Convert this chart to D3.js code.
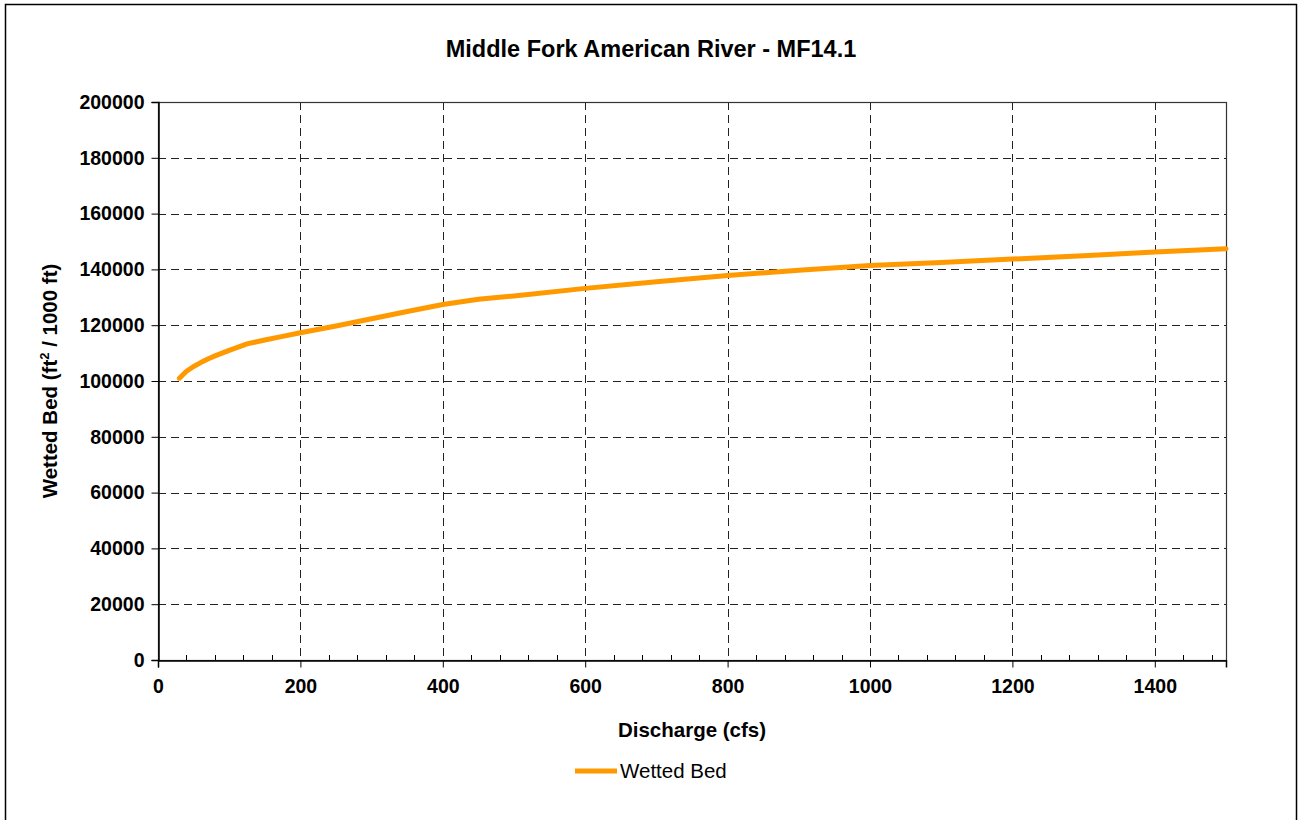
<!DOCTYPE html>
<html>
<head>
<meta charset="utf-8">
<script src="https://cdn.jsdelivr.net/npm/d3@7"></script>
<style>
  body { margin: 0; background: #fff; }
  svg { display: block; font-family: "Liberation Sans", Arial, sans-serif; }
</style>
</head>
<body>
<div id="chart"></div>
<script>
var discharge = [30, 40, 50, 60, 70, 80, 90, 100, 125, 150, 175, 200, 250, 300, 350, 400, 450, 500, 600, 700, 800, 900, 1000, 1100, 1200, 1300, 1400, 1500];
var wettedBed = [101000, 103500, 105200, 106600, 107900, 109000, 110000, 111000, 113300, 114700, 116000, 117300, 119700, 122300, 124900, 127400, 129300, 130500, 133200, 135600, 137800, 139700, 141400, 142500, 143700, 144900, 146200, 147400];
var xTicks = [0, 200, 400, 600, 800, 1000, 1200, 1400];
var yTicks = [0, 20000, 40000, 60000, 80000, 100000, 120000, 140000, 160000, 180000, 200000];

var width = 1303, height = 820;
var plotLeft = 158, plotRight = 1226, plotTop = 102, plotBottom = 660;
var font = '"Liberation Sans", Arial, sans-serif';

var svg = d3.select('#chart').append('svg')
  .attr('width', width)
  .attr('height', height);

// outer chart border
svg.append('rect')
  .attr('x', 5.5).attr('y', 4.5)
  .attr('width', 1291).attr('height', 830)
  .attr('fill', 'none').attr('stroke', '#000').attr('stroke-width', 1.5);

var x = d3.scaleLinear().domain([0, 1500]).range([plotLeft, plotRight]);
var y = d3.scaleLinear().domain([0, 200000]).range([plotBottom, plotTop]);

// gridlines
svg.append('g').selectAll('line')
  .data(xTicks.filter(function(d) { return d > 0; }))
  .enter().append('line')
  .attr('x1', function(d) { return Math.round(x(d)) + 0.5; })
  .attr('x2', function(d) { return Math.round(x(d)) + 0.5; })
  .attr('y1', plotTop).attr('y2', plotBottom)
  .attr('stroke', '#222').attr('stroke-dasharray', '8,5');

svg.append('g').selectAll('line')
  .data(yTicks.filter(function(d) { return d > 0 && d < 200000; }))
  .enter().append('line')
  .attr('y1', function(d) { return Math.round(y(d)) + 0.5; })
  .attr('y2', function(d) { return Math.round(y(d)) + 0.5; })
  .attr('x1', plotLeft).attr('x2', plotRight)
  .attr('stroke', '#222').attr('stroke-dasharray', '8,5');

// plot area border
svg.append('rect')
  .attr('x', plotLeft + 0.5).attr('y', plotTop + 0.5)
  .attr('width', plotRight - plotLeft).attr('height', plotBottom - plotTop)
  .attr('fill', 'none').attr('stroke', '#333').attr('stroke-width', 1.2);

// x axis: major ticks outside, minor ticks inside
var xAxis = d3.axisBottom(x).tickValues(xTicks).tickSize(7).tickPadding(12).tickFormat(d3.format('d'));
var gx = svg.append('g')
  .attr('transform', 'translate(0,' + (plotBottom + 0.5) + ')')
  .call(xAxis);
gx.select('.domain').attr('stroke', '#000').attr('stroke-width', 1.5);
gx.selectAll('.tick line').attr('stroke', '#000');
gx.selectAll('text')
  .attr('font-size', 19.5).attr('font-weight', 'bold')
  .attr('font-family', font).attr('fill', '#000');

svg.append('g').selectAll('line')
  .data(d3.range(0, 1501, 40).filter(function(d) { return d % 200 !== 0; }))
  .enter().append('line')
  .attr('x1', function(d) { return Math.round(x(d)) + 0.5; })
  .attr('x2', function(d) { return Math.round(x(d)) + 0.5; })
  .attr('y1', plotBottom - 5).attr('y2', plotBottom)
  .attr('stroke', '#000');

// y axis
var yAxis = d3.axisLeft(y).tickValues(yTicks).tickSize(7).tickPadding(7).tickFormat(d3.format('d'));
var gy = svg.append('g')
  .attr('transform', 'translate(' + (plotLeft + 0.5) + ',0)')
  .call(yAxis);
gy.select('.domain').attr('stroke', '#000').attr('stroke-width', 1.5);
gy.selectAll('.tick line').attr('stroke', '#000');
gy.selectAll('text')
  .attr('font-size', 19.5).attr('font-weight', 'bold')
  .attr('font-family', font).attr('fill', '#000');

// data line
var line = d3.line()
  .x(function(d, i) { return x(discharge[i]); })
  .y(function(d) { return y(d); });

svg.append('path')
  .datum(wettedBed)
  .attr('d', line)
  .attr('fill', 'none')
  .attr('stroke', '#FF9900')
  .attr('stroke-width', 5)
  .attr('stroke-linecap', 'round')
  .attr('stroke-linejoin', 'round');

// titles
svg.append('text')
  .attr('x', 651).attr('y', 57)
  .attr('text-anchor', 'middle')
  .attr('font-size', 23.5).attr('font-weight', 'bold')
  .text('Middle Fork American River - MF14.1');

svg.append('text')
  .attr('x', 692).attr('y', 737)
  .attr('text-anchor', 'middle')
  .attr('font-size', 20.5).attr('font-weight', 'bold')
  .text('Discharge (cfs)');

var yt = svg.append('text')
  .attr('transform', 'translate(57,' + ((plotTop + plotBottom) / 2) + ') rotate(-90)')
  .attr('text-anchor', 'middle')
  .attr('font-size', 20.5).attr('font-weight', 'bold');
yt.append('tspan').text('Wetted Bed (ft');
yt.append('tspan').attr('dy', -8).attr('font-size', 13).text('2');
yt.append('tspan').attr('dy', 8).text(' / 1000 ft)');

// legend
svg.append('line')
  .attr('x1', 575).attr('x2', 617)
  .attr('y1', 771).attr('y2', 771)
  .attr('stroke', '#FF9900').attr('stroke-width', 5);
svg.append('text')
  .attr('x', 620).attr('y', 778)
  .attr('font-size', 20.5)
  .text('Wetted Bed');
</script>
</body>
</html>
